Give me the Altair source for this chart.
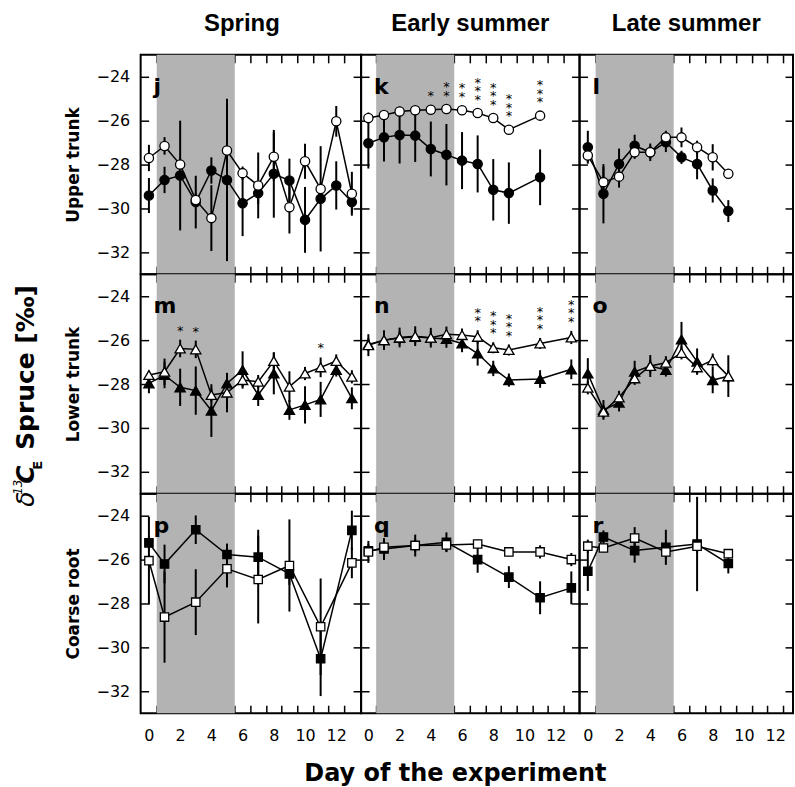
import altair as alt
import pandas as pd

# ---------------- data ----------------
seasons = ["Spring", "Early summer", "Late summer"]
organs = ["Upper trunk", "Lower trunk", "Coarse root"]
letters = [["j", "k", "l"], ["m", "n", "o"], ["p", "q", "r"]]
x_tick_days = list(range(13))
y_ticks = [-24, -26, -28, -30, -32]
shade_start, shade_end = 0.5, 5.5

# Upper trunk
j_days = list(range(14))
j_filled = [-29.41, -28.70, -28.50, -29.71, -28.27, -28.70, -29.76, -29.30, -28.42, -28.73, -30.52, -29.56, -28.95, -29.71]
j_filled_se = [0.8, 0.6, 2.5, 1.2, 0.6, 3.7, 1.5, 0.5, 2.0, 1.0, 1.5, 2.4, 1.1, 0.5]
j_open = [-27.70, -27.15, -28.00, -29.61, -30.44, -27.36, -28.39, -28.95, -27.64, -29.94, -27.85, -29.11, -26.03, -29.33]
j_open_se = [0.6, 0.4, 0.3, 0.3, 1.5, 0.3, 0.3, 1.5, 1.1, 1.2, 0.8, 0.3, 0.7, 1.0]

k_days = [0, 1, 2, 3, 4, 5, 6, 7, 8, 9, 11]
k_filled = [-27.03, -26.76, -26.65, -26.68, -27.29, -27.55, -27.82, -27.97, -29.15, -29.30, -28.58]
k_filled_se = [1.15, 1.1, 1.3, 1.2, 1.25, 1.4, 1.3, 1.3, 1.4, 1.4, 1.27]
k_open = [-25.88, -25.74, -25.58, -25.52, -25.50, -25.47, -25.52, -25.65, -25.88, -26.41, -25.77]
k_open_se = [0.25, 0.2, 0.2, 0.2, 0.2, 0.2, 0.2, 0.2, 0.2, 0.2, 0.2]

l_days = list(range(10))
l_filled = [-27.21, -29.33, -27.97, -27.14, -27.44, -26.98, -27.67, -27.97, -29.18, -30.12]
l_filled_se = [0.75, 1.35, 0.7, 0.5, 0.4, 0.45, 0.3, 0.7, 0.55, 0.5]
l_open = [-27.59, -28.80, -28.55, -27.44, -27.44, -26.76, -26.76, -27.21, -27.67, -28.42]
l_open_se = [0.3, 0.7, 0.5, 0.3, 0.3, 0.3, 0.45, 0.3, 0.6, 0.2]

# Lower trunk
m_days = list(range(14))
m_filled = [-27.97, -27.59, -28.15, -28.30, -29.21, -27.97, -27.36, -28.50, -27.52, -29.18, -28.95, -28.70, -27.36, -28.65]
m_filled_se = [0.45, 0.6, 0.85, 1.1, 1.2, 0.4, 0.85, 0.5, 0.95, 0.45, 0.85, 0.8, 0.3, 0.5]
m_open = [-27.59, -27.44, -26.38, -26.42, -28.50, -28.39, -27.82, -27.89, -26.95, -28.12, -27.52, -27.24, -26.95, -27.67]
m_open_se = [0.2, 0.6, 0.4, 0.4, 0.3, 0.9, 0.3, 0.3, 0.4, 0.7, 0.3, 0.45, 0.3, 0.3]

n_days = [0, 1, 2, 3, 4, 5, 6, 7, 8, 9, 11, 13]
n_filled = [-26.20, -26.00, -25.90, -25.85, -25.90, -25.95, -26.15, -26.61, -27.29, -27.82, -27.77, -27.33]
n_filled_se = [0.3, 0.3, 0.3, 0.3, 0.3, 0.4, 0.4, 0.55, 0.35, 0.3, 0.4, 0.45]
n_open = [-26.23, -26.00, -25.88, -25.82, -25.89, -25.73, -25.77, -25.85, -26.35, -26.45, -26.15, -25.88]
n_open_se = [0.5, 0.45, 0.45, 0.45, 0.45, 0.35, 0.3, 0.3, 0.25, 0.25, 0.25, 0.3]

o_days = list(range(10))
o_filled = [-27.52, -29.18, -28.85, -27.44, -27.18, -27.36, -25.97, -26.98, -27.82, -27.65]
o_filled_se = [0.7, 0.45, 0.4, 0.5, 0.5, 0.3, 0.8, 0.6, 0.6, 0.3]
o_open = [-28.17, -29.26, -28.61, -27.74, -27.18, -27.03, -26.58, -27.24, -26.91, -27.64]
o_open_se = [0.3, 0.3, 0.3, 0.3, 0.3, 0.3, 0.3, 0.3, 0.3, 0.95]

# Coarse root
p_days = [0, 1, 3, 5, 7, 9, 11, 13]
p_filled = [-25.24, -26.20, -24.64, -25.77, -25.89, -26.65, -30.52, -24.67]
p_filled_se = [0.3, 0.88, 0.65, 0.5, 1.25, 0.5, 1.7, 0.9]
p_open = [-26.05, -28.62, -27.94, -26.42, -26.91, -26.27, -29.06, -26.15]
p_open_se = [2.0, 2.08, 1.5, 0.85, 2.0, 2.1, 2.2, 0.7]

q_days = [0, 1, 3, 5, 7, 9, 11, 13]
q_filled = [-25.60, -25.52, -25.36, -25.21, -26.00, -26.80, -27.74, -27.29]
q_filled_se = [0.3, 0.5, 0.5, 0.45, 0.6, 0.5, 0.75, 0.75]
q_open = [-25.65, -25.44, -25.36, -25.33, -25.29, -25.65, -25.65, -26.00]
q_open_se = [0.5, 0.3, 0.3, 0.3, 0.2, 0.2, 0.3, 0.3]

r_days = [0, 1, 3, 5, 7, 9]
r_filled = [-26.53, -24.97, -25.59, -25.44, -25.29, -26.18]
r_filled_se = [0.9, 0.3, 0.55, 0.8, 2.15, 0.45]
r_open = [-25.39, -25.47, -25.02, -25.65, -25.39, -25.73]
r_open_se = [0.3, 0.2, 0.5, 0.3, 0.3, 0.2]

# significance marks (number of asterisks per day)
k_star_days = [4, 5, 6, 7, 8, 9, 11]
k_star_count = [1, 2, 2, 3, 3, 3, 3]
m_star_days = [2, 3, 11]
m_star_count = [1, 1, 1]
n_star_days = [7, 8, 9, 11, 13]
n_star_count = [2, 3, 3, 3, 3]

panels = {
    (0, 0): (j_days, j_filled, j_filled_se, j_open, j_open_se),
    (0, 1): (k_days, k_filled, k_filled_se, k_open, k_open_se),
    (0, 2): (l_days, l_filled, l_filled_se, l_open, l_open_se),
    (1, 0): (m_days, m_filled, m_filled_se, m_open, m_open_se),
    (1, 1): (n_days, n_filled, n_filled_se, n_open, n_open_se),
    (1, 2): (o_days, o_filled, o_filled_se, o_open, o_open_se),
    (2, 0): (p_days, p_filled, p_filled_se, p_open, p_open_se),
    (2, 1): (q_days, q_filled, q_filled_se, q_open, q_open_se),
    (2, 2): (r_days, r_filled, r_filled_se, r_open, r_open_se),
}
stars = {
    (0, 1): (k_star_days, k_star_count),
    (1, 0): (m_star_days, m_star_count),
    (1, 1): (n_star_days, n_star_count),
}

# ---------------- layout / style ----------------
PXD = 15.65                 # pixels per day
COL_W = [221, 219, 214]
COL_X0 = [8.3, 7.3, 8.3]    # pixels from the left edge to day 0
H = 220
YDOM = [-33, -23]
SHAPES = ["circle", "triangle-up", "square"]
SIZES = [86, 105, 70]
TICK = 8
FONT = "DejaVu Sans"
STAR_GAP = 8.5


def make_panel(r, c):
    days, fm, fe, om, oe = panels[(r, c)]
    W = COL_W[c]
    x0 = COL_X0[c]
    xs = alt.Scale(domain=[-x0 / PXD, (W - x0) / PXD], nice=False, zero=False)
    ys = alt.Scale(domain=YDOM, nice=False, zero=False)

    rows = []
    for d, mval, e in zip(days, fm, fe):
        rows.append(dict(day=d, mean=mval, lo=mval - e, hi=mval + e, series="filled"))
    for d, mval, e in zip(days, om, oe):
        rows.append(dict(day=d, mean=mval, lo=mval - e, hi=mval + e, series="open"))
    df = pd.DataFrame(rows)
    shade = pd.DataFrame([dict(x1=shade_start, x2=shade_end, y1=YDOM[0], y2=YDOM[1])])

    bottom_kw = dict(orient="bottom", values=x_tick_days, tickOffset=PXD / 2,
                     labelOffset=-PXD / 2, labels=(r == 2),
                     labelExpr="datum.value % 2 == 0 ? datum.label : ''",
                     offset=-TICK, tickSize=TICK, labelPadding=14, domain=False, grid=False)
    if r == 2 and c == 1:
        bottom_kw.update(title="Day of the experiment", titleFont=FONT, titleFontSize=24,
                         titleFontWeight="bold", titlePadding=18, titleX=94, titleColor="black")
    else:
        bottom_kw.update(title=None)
    bottom_axis = alt.Axis(**bottom_kw)
    top_axis = alt.Axis(orient="top", values=x_tick_days, tickOffset=PXD / 2, labels=False,
                        offset=-TICK, tickSize=TICK, domain=False, grid=False, title=None)
    left_kw = dict(orient="left", values=y_ticks, labels=(c == 0), offset=-TICK, tickSize=TICK,
                   labelPadding=11, domain=False, grid=False)
    if c == 0:
        left_kw.update(title=organs[r], titleFont=FONT, titleFontSize=17, titleFontWeight="bold",
                       titlePadding=14, titleColor="black")
    else:
        left_kw.update(title=None)
    left_axis = alt.Axis(**left_kw)
    right_axis = alt.Axis(orient="right", values=y_ticks, labels=False, offset=-TICK,
                          tickSize=TICK, domain=False, grid=False, title=None)

    X = lambda f: alt.X(f, scale=xs, axis=None)
    Y = lambda f: alt.Y(f, scale=ys, axis=None)

    layers = []
    layers.append(alt.Chart(shade).mark_rect(color="#b3b3b3").encode(
        x=alt.X("x1:Q", scale=xs, axis=top_axis), x2="x2:Q",
        y=alt.Y("y1:Q", scale=ys, axis=right_axis), y2="y2:Q"))
    layers.append(alt.Chart(df).mark_rule(color="black", strokeWidth=2).encode(
        x=alt.X("day:Q", scale=xs, axis=bottom_axis),
        y=alt.Y("lo:Q", scale=ys, axis=left_axis), y2="hi:Q"))
    layers.append(alt.Chart(df).mark_line(color="black", strokeWidth=1.5).encode(
        x=X("day:Q"), y=Y("mean:Q"), detail="series:N"))
    for ser, fillc in (("filled", "black"), ("open", "white")):
        layers.append(alt.Chart(df).transform_filter(f"datum.series == '{ser}'").mark_point(
            shape=SHAPES[r], size=SIZES[r], filled=True, fill=fillc, stroke="black",
            strokeWidth=1.3, opacity=1).encode(x=X("day:Q"), y=Y("mean:Q")))

    if (r, c) in stars:
        sd, sc = stars[(r, c)]
        upper = {d: (mv + e) for d, mv, e in zip(days, om, oe)}
        srows = []
        for d, n in zip(sd, sc):
            for lvl in range(n):
                srows.append(dict(day=d, y=upper[d], level=lvl, t="*"))
        sdf = pd.DataFrame(srows)
        for lvl in range(3):
            layers.append(alt.Chart(sdf).transform_filter(f"datum.level == {lvl}").mark_text(
                baseline="alphabetic", align="center", fontSize=13, font=FONT, color="black",
                dy=-5 - STAR_GAP * lvl).encode(x=X("day:Q"), y=Y("y:Q"), text="t:N"))

    layers.append(alt.Chart(pd.DataFrame({"t": [letters[r][c]]})).mark_text(
        align="left", baseline="alphabetic", fontSize=22, fontWeight="bold", font=FONT,
        color="black").encode(x=alt.value(13), y=alt.value(39), text="t:N"))

    if (r, c) == (1, 0):
        # overall y title: delta 13 C_E Spruce [per mille]
        pieces = [
            ("δ", 0, 0, 25, "normal", "italic"),
            ("13", 12, -12, 12, "normal", "italic"),
            ("C", 23, 0, 25, "bold", "italic"),
            ("E", 37, 8, 13, "bold", "normal"),
            ("Spruce [‰]", 57, 0, 25, "bold", "normal"),
        ]
        for txt, ddx, ddy, fs, fw, fst in pieces:
            layers.append(alt.Chart(pd.DataFrame({"t": [txt]})).mark_text(
                angle=270, align="left", baseline="alphabetic", dx=ddx, dy=ddy,
                fontSize=fs, fontWeight=fw, fontStyle=fst, font=FONT, color="black").encode(
                x=alt.value(-107), y=alt.value(233), text="t:N"))

    ch = alt.layer(*layers).resolve_axis(x="independent", y="independent").properties(
        width=W, height=H)
    if r == 0:
        ch = ch.properties(title=alt.TitleParams(
            text=seasons[c], font="Liberation Sans", fontSize=24, fontWeight="bold",
            anchor="middle", offset=18, dx=(-9 if c == 0 else 0), color="black"))
    return ch


cells = [make_panel(r, c) for r in range(3) for c in range(3)]

chart = alt.concat(*cells, columns=3, spacing=0, bounds="flush", align="each").properties(
    padding={"left": 11, "top": 10, "right": 0, "bottom": 0}, background="white"
).configure_view(stroke="black", strokeWidth=2).configure_axis(
    tickColor="black", tickWidth=1.5, labelColor="black", labelFont=FONT, labelFontSize=16
)

chart.save("out.html", embed_options={"renderer": "svg", "actions": False})
